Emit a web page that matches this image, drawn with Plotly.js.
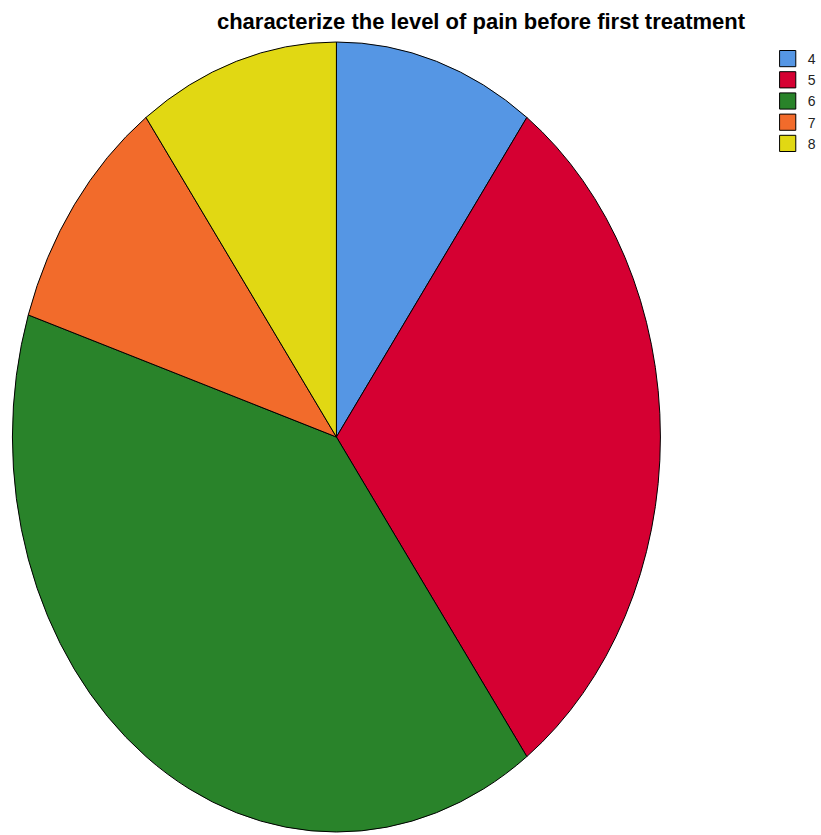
<!DOCTYPE html>
<html>
<head>
<meta charset="utf-8">
<script src="https://cdn.plot.ly/plotly-3.0.1.min.js"></script>
<style>
html,body{margin:0;padding:0;background:#fff;}
#chart{width:821px;height:835px;}
</style>
</head>
<body>
<div id="chart"></div>
<script>
const categories = ["4", "5", "6", "7", "8"];
const counts = [1, 3, 4, 1, 1];
const colors = ["#5596E4", "#D50032", "#29832A", "#F26B2B", "#E1D813"];
const chartTitle = "characterize the level of pain before first treatment";

const W = 821, H = 835;
const WE = 806;
const cx = 336, cy = 437, rx = 324, ry = 395;

const data = [{
  type: "pie",
  labels: categories,
  values: counts,
  sort: false,
  direction: "clockwise",
  rotation: 0,
  textinfo: "none",
  hoverinfo: "label+value",
  marker: {colors: colors, line: {color: "#000", width: 1}},
  domain: {
    x: [(cx - rx) / WE, (cx + rx) / WE],
    y: [((H - cy) - rx) / H, ((H - cy) + rx) / H]
  }
}];

const layout = {
  width: W, height: H,
  margin: {l: 0, r: 0, t: 0, b: 0},
  paper_bgcolor: "#fff",
  showlegend: true,
  title: {
    text: "<b>" + chartTitle + "</b>",
    x: 481 / W, xanchor: "center",
    y: 1 - 21 / H, yanchor: "middle",
    font: {family: "Liberation Sans Narrow, Arial Narrow, Liberation Sans, Arial", size: 22, color: "#000"}
  },
  legend: {
    x: 781 / W, xanchor: "left",
    y: 1 - 43 / H, yanchor: "top",
    font: {family: "Liberation Sans Narrow, Arial Narrow, Liberation Sans, Arial", size: 14, color: "#222"},
    bgcolor: "rgba(0,0,0,0)",
    itemwidth: 30,
    tracegroupgap: 0
  }
};

Plotly.newPlot("chart", data, layout, {displayModeBar: false, staticPlot: true}).then(function(gd) {
  const s = ry / rx;
  const pl = gd.querySelector(".pielayer");
  if (pl) {
    pl.setAttribute("transform", "translate(0," + cy + ") scale(1," + s + ") translate(0," + (-cy) + ")");
    pl.querySelectorAll("path").forEach(p => p.setAttribute("vector-effect", "non-scaling-stroke"));
  }
  gd.querySelectorAll(".legend .legendpoints path").forEach(p => {
    const t = p.getAttribute("transform") || "";
    p.setAttribute("transform", t + " scale(1.35)");
    p.setAttribute("vector-effect", "non-scaling-stroke");
  });
});
</script>
</body>
</html>
